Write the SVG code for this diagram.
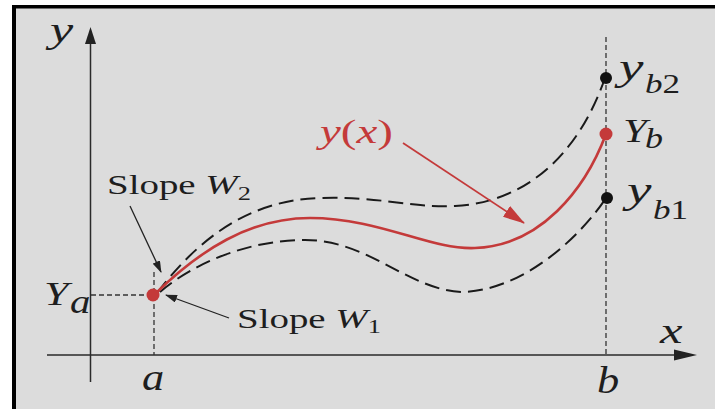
<svg xmlns="http://www.w3.org/2000/svg" width="715" height="409" viewBox="0 0 715 409">
<style>
.t{font-family:"Liberation Serif","Times New Roman",serif;fill:#1e1e1e}
.i{font-style:italic}
.r{fill:#c43a3a}
.ax{stroke:#2a2a2a;stroke-width:1.5;fill:none}
.guide{stroke:#333;stroke-width:1.3;stroke-dasharray:5 3;fill:none}
.dash{stroke:#1a1a1a;stroke-width:2;stroke-dasharray:15 7;fill:none}
.red{stroke:#c43a3a;stroke-width:2.6;fill:none}
.lead{stroke:#222;stroke-width:1.3;fill:none}
</style>
<defs>
<marker id="ah" markerWidth="12" markerHeight="8" refX="11" refY="4" orient="auto" markerUnits="userSpaceOnUse">
<path d="M0,0 L12,4 L0,8 Z" fill="#222"/>
</marker>
<marker id="ahr" markerWidth="22" markerHeight="13" refX="21" refY="6.5" orient="auto" markerUnits="userSpaceOnUse">
<path d="M0,0 L22,6.5 L0,13 Z" fill="#c43a3a"/>
</marker>
</defs>
<rect x="0" y="0" width="715" height="409" fill="#ffffff"/>
<rect x="12" y="5" width="703" height="404" fill="#dcdcdc"/>
<rect x="12" y="5" width="703" height="3.5" fill="#000"/>
<rect x="12" y="5" width="4" height="404" fill="#000"/>

<g id="axes">
<line class="ax" x1="90.5" y1="40" x2="90.5" y2="382"/>
<path d="M90.5,27 L96,44 L85,44 Z" fill="#222"/>
<line class="ax" x1="47" y1="355" x2="676" y2="355"/>
<path d="M697,355 L674,349.5 L674,360.5 Z" fill="#222"/>
<text class="t i" transform="translate(50,42) scale(1.45,1)" font-size="36">y</text>
<text class="t i" transform="translate(660,343) scale(1.45,1)" font-size="35">x</text>
</g>

<g id="guides">
<line class="guide" x1="91" y1="295" x2="150" y2="295"/>
<line class="guide" x1="154" y1="272" x2="154" y2="355"/>
<line class="guide" x1="606" y1="37" x2="606" y2="355"/>
</g>

<g id="connectors">
<path id="upper" class="dash" d="M157,293 C190,250 240,200 320,198 C380,196 410,208 455,206 C530,202 580,150 605,78"/>
<path id="lower" class="dash" d="M160,292 C195,262 250,240 305,240 C370,240 410,292 465,292 C530,288 585,230 606,198"/>
<path id="yx" class="red" d="M155,294 C200,250 250,218 310,218 C380,218 430,250 475,248 C540,246 585,190 606,134"/>
<line class="lead" x1="130" y1="206" x2="161" y2="272" marker-end="url(#ah)"/>
<line class="lead" x1="229" y1="318" x2="166" y2="295" marker-end="url(#ah)"/>
<line x1="403" y1="143" x2="524" y2="223" stroke="#c43a3a" stroke-width="1.8" marker-end="url(#ahr)"/>
</g>

<g id="pointA">
<circle cx="153" cy="295" r="6.5" fill="#c43a3a"/>
<text class="t i" transform="translate(44,305) scale(1.3,1)" font-size="34">Y</text>
<text class="t i" transform="translate(70,313) scale(1.2,1)" font-size="34">a</text>
<text class="t i" transform="translate(142,390) scale(1.2,1)" font-size="37">a</text>
</g>

<g id="pointB">
<text class="t i" transform="translate(597,393) scale(1.2,1)" font-size="37">b</text>
</g>

<g id="yb2">
<circle cx="606" cy="78" r="6" fill="#111"/>
<text class="t i" transform="translate(619,80) scale(1.45,1)" font-size="38">y</text>
<text class="t" transform="translate(645,93) scale(1.3,1)" font-size="27"><tspan font-style="italic">b</tspan>2</text>
</g>

<g id="Yb">
<circle cx="606" cy="134" r="6.5" fill="#c43a3a"/>
<text class="t i" transform="translate(623,142) scale(1.3,1)" font-size="33">Y</text>
<text class="t i" transform="translate(645,148) scale(1.2,1)" font-size="30">b</text>
</g>

<g id="yb1">
<circle cx="607" cy="198" r="6" fill="#111"/>
<text class="t i" transform="translate(627,203) scale(1.45,1)" font-size="38">y</text>
<text class="t" transform="translate(653,219) scale(1.3,1)" font-size="27"><tspan font-style="italic">b</tspan>1</text>
</g>

<g id="label-yx">
<text class="t r" transform="translate(320,143) scale(1.38,1)" font-size="34"><tspan font-style="italic">y</tspan>(<tspan font-style="italic">x</tspan>)</text>
</g>

<g id="label-slope2">
<text class="t" transform="translate(107,194) scale(1.39,1)" font-size="28">Slope <tspan font-style="italic">W</tspan><tspan font-size="19" dy="6">2</tspan></text>
</g>

<g id="label-slope1">
<text class="t" transform="translate(237,328) scale(1.39,1)" font-size="28">Slope <tspan font-style="italic">W</tspan><tspan font-size="19" dy="5">1</tspan></text>
</g>
</svg>
